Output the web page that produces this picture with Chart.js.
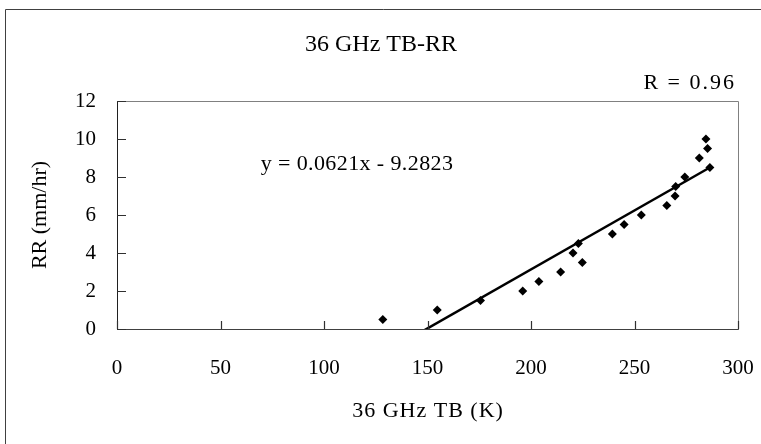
<!DOCTYPE html>
<html>
<head>
<meta charset="utf-8">
<script src="https://cdn.jsdelivr.net/npm/chart.js@4"></script>
<style>
html,body{margin:0;padding:0;background:#fff;}
canvas{display:block;}
</style>
</head>
<body>
<canvas id="c" width="761" height="444"></canvas>
<script>
// Observed data (36 GHz brightness temperature K, rain rate mm/hr)
const tbValues = [128.4, 154.7, 175.6, 196, 203.8, 214.3, 220.3, 222.9, 224.8, 239.3, 245, 253.3, 265.6, 269.6, 269.9, 274.3, 281.3, 285.3, 284.5, 286.4];
const rrValues = [0.5, 1, 1.5, 2, 2.5, 3, 4, 4.5, 3.5, 5, 5.5, 6, 6.5, 7, 7.5, 8, 9, 9.5, 10, 8.5];
// Trend line end points
const trendX = [128.4, 286.4];
const trendY = [-1.31, 8.50];
const xTicks = [0, 50, 100, 150, 200, 250, 300];
const yTicks = [0, 2, 4, 6, 8, 10, 12];

const FONT = '"Liberation Serif", "DejaVu Serif", serif';

const scatterData = tbValues.map((x, i) => ({x: x, y: rrValues[i]}));
const trendData = trendX.map((x, i) => ({x: x, y: trendY[i]}));

function txt(ctx, s, x, y, size, align, spacing) {
  ctx.font = size + 'px ' + FONT;
  ctx.textAlign = align;
  ctx.letterSpacing = (spacing || 0) + 'px';
  ctx.fillText(s, x, y);
}

const deco = {
  id: 'deco',
  afterDraw(chart) {
    const ctx = chart.ctx;
    const a = chart.chartArea;
    const xs = chart.scales.x, ys = chart.scales.y;
    ctx.save();
    // plot area top/right border
    ctx.strokeStyle = '#808080';
    ctx.lineWidth = 1;
    ctx.beginPath();
    ctx.moveTo(Math.round(a.left) + 0.5, Math.round(a.top) + 0.5);
    ctx.lineTo(Math.round(a.right) + 0.5, Math.round(a.top) + 0.5);
    ctx.lineTo(Math.round(a.right) + 0.5, Math.round(a.bottom) + 0.5);
    ctx.stroke();
    // inward ticks
    ctx.strokeStyle = '#303030';
    ctx.lineWidth = 1.2;
    ctx.beginPath();
    xTicks.forEach(v => {
      const px = Math.round(xs.getPixelForValue(v)) + 0.5;
      ctx.moveTo(px, a.bottom);
      ctx.lineTo(px, a.bottom - 8);
    });
    yTicks.forEach(v => {
      const py = Math.round(ys.getPixelForValue(v)) + 0.5;
      ctx.moveTo(a.left, py);
      ctx.lineTo(a.left + 9, py);
    });
    ctx.stroke();
    // outer frame (top & left)
    ctx.strokeStyle = '#404040';
    ctx.lineWidth = 1;
    ctx.beginPath();
    ctx.moveTo(5.5, 444);
    ctx.lineTo(5.5, 9.5);
    ctx.lineTo(761, 9.5);
    ctx.stroke();
    // texts
    ctx.fillStyle = '#000';
    ctx.textBaseline = 'middle';
    txt(ctx, '36 GHz TB-RR', 381, 45, 24, 'center', 0);
    txt(ctx, 'R = 0.96', 736, 83, 22, 'right', 2);
    txt(ctx, 'y = 0.0621x - 9.2823', 357, 164, 22, 'center', 0.4);
    txt(ctx, '36 GHz TB (K)', 428, 411, 22, 'center', 1);
    ctx.translate(40, 215);
    ctx.rotate(-Math.PI / 2);
    txt(ctx, 'RR (mm/hr)', 0, 0, 22, 'center', 0);
    ctx.restore();
  }
};

new Chart(document.getElementById('c'), {
  type: 'scatter',
  data: {
    datasets: [
      {
        type: 'line',
        data: trendData,
        borderColor: '#000',
        borderWidth: 2.5,
        pointRadius: 0,
        fill: false,
        tension: 0,
        order: 2
      },
      {
        data: scatterData,
        pointStyle: 'rectRot',
        pointRadius: 4.5,
        pointHoverRadius: 4.5,
        backgroundColor: '#000',
        borderColor: '#000',
        borderWidth: 0,
        order: 1
      }
    ]
  },
  options: {
    responsive: false,
    animation: false,
    devicePixelRatio: 1,
    layout: {padding: {left: 57, top: 101, right: 23, bottom: 55}},
    plugins: {legend: {display: false}, tooltip: {enabled: false}, title: {display: false}},
    scales: {
      x: {
        type: 'linear', min: 0, max: 300,
        afterFit(s) { s.height = 60; },
        afterBuildTicks(s) { s.ticks = xTicks.map(v => ({value: v})); },
        grid: {drawOnChartArea: false, drawTicks: true, tickLength: 27, tickColor: 'rgba(0,0,0,0)'},
        border: {display: true, color: '#404040', width: 1},
        ticks: {color: '#000', font: {family: FONT, size: 21}, padding: 0, maxRotation: 0}
      },
      y: {
        type: 'linear', min: 0, max: 12,
        afterFit(s) { s.width = 60; },
        afterBuildTicks(s) { s.ticks = yTicks.map(v => ({value: v})); },
        grid: {drawOnChartArea: false, drawTicks: false},
        border: {display: true, color: '#202020', width: 1},
        ticks: {color: '#000', font: {family: FONT, size: 21}, padding: 21}
      }
    }
  },
  plugins: [deco]
});
</script>
</body>
</html>
